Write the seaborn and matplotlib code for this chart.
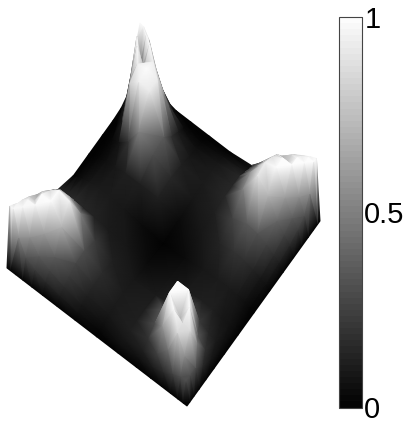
# grey height surface seen from above, with colour bar

import numpy as np
import matplotlib
matplotlib.use('Agg')
import matplotlib.pyplot as plt
import matplotlib.tri as mtri
from matplotlib.colors import ListedColormap
import seaborn as sns

# grid positions along both floor axes (denser close to the corners)
grid = [0, .02, .05, .09, .14, .20, .28, .38, .5, .62, .72, .80, .86, .91, .95, .98, 1]

# heights, one table per quadrant, each running from the
# corner (first row / column) to the middle of the floor
front_corner = [
    [0, 0, 0, 0, 0, 0, 0, 0, 0],
    [0, .3, .3, .3, .15, .08, .05, .04, .03],
    [0, .3, .55, .85, .5, .2, .1, .07, .06],
    [0, .25, .85, .88, 1, .35, .15, .09, .09],
    [0, .15, .45, 1, .7, 1, .22, .11, .1],
    [0, .1, .25, .6, 1, 1, .3, .12, .1],
    [0, .06, .12, .2, .3, .35, .15, .1, .08],
    [0, .05, .08, .11, .12, .12, .1, .07, .04],
    [0, .03, .06, .09, .1, .1, .08, .04, 0],
]
left_corner = [
    [0, .97, .9, .8, .7, .57, .38, .13, 0],
    [0, .97, .96, .9, .8, .65, .42, .14, .03],
    [0, .55, .97, .97, .8, .77, .55, .15, .06],
    [0, .3, .55, .97, 1, .87, .64, .16, .09],
    [0, .22, .35, .6, 1, 1, .64, .15, .1],
    [0, .15, .25, .35, .7, .95, .5, .14, .1],
    [0, .1, .16, .22, .28, .3, .22, .1, .08],
    [0, .05, .09, .12, .15, .16, .12, .08, .04],
    [0, .03, .06, .09, .1, .1, .08, .04, 0],
]
right_corner = [
    [0, 1, .95, .88, .78, .62, .37, .05, 0],
    [0, 1, 1, .93, .84, .68, .41, .06, .03],
    [0, .55, 1, 1, .8, .8, .5, .1, .06],
    [0, .3, .55, 1, 1, .88, .55, .15, .09],
    [0, .22, .35, .6, 1, .95, .6, .15, .1],
    [0, .15, .25, .4, .7, .9, .5, .15, .1],
    [0, .1, .16, .25, .32, .35, .25, .12, .08],
    [0, .05, .09, .14, .18, .2, .14, .08, .04],
    [0, .03, .06, .09, .1, .1, .08, .04, 0],
]
back_corner = [
    [1, .8, .53, .1, .02, 0, 0, 0, 0],
    [.98, .45, .97, .5, .1, .01, 0, 0, .03],
    [.83, .97, .5, 1, .6, .1, .03, .03, .06],
    [.42, .6, 1, .7, .95, .8, .07, .06, .09],
    [.05, .27, .52, .95, 1, .95, .2, .08, .1],
    [0, .05, .22, .55, .93, .92, .5, .12, .1],
    [0, .01, .04, .1, .18, .35, .3, .12, .08],
    [0, 0, .03, .06, .08, .12, .15, .12, .04],
    [0, .03, .06, .09, .1, .1, .08, .04, 0],
]
bar_ticks = [0, 0.5, 1]
bar_labels = ['0', '0.5', '1']

height = np.zeros((17, 17))
height[:9, :9] = front_corner
height[8:, :9] = np.array(left_corner)[::-1]
height[:9, 8:] = np.array(right_corner).T[:, ::-1]
height[8:, 8:] = np.array(back_corner)[::-1, ::-1]

sns.set_style('white')
plt.rcParams['font.family'] = ['Liberation Sans', 'DejaVu Sans']
grey = ListedColormap(sns.color_palette('gray', 64))

fig = plt.figure(figsize=(4.04, 4.24), dpi=100)
ax = fig.add_axes([0, 0, 1, 1])
ax.set_xlim(0, 404)
ax.set_ylim(424, 0)
ax.axis('off')

# parallel view: floor axes and height axis as pixel vectors
A, B = np.meshgrid(grid, grid)
floor_x = 187 + 133 * A - 180 * B
floor_y = 406 - 185 * A - 138 * B
screen_y = floor_y - 60 * height

# smooth shading with triangles painted from back to front,
# each cell split along the diagonal with the smaller height step
idx = np.arange(17 * 17).reshape(17, 17)
tris = []
for j in range(16):
    for i in range(16):
        step_main = abs(height[j, i] - height[j + 1, i + 1])
        step_anti = abs(height[j, i + 1] - height[j + 1, i])
        if step_anti + 0.25 < step_main:
            tris.append([idx[j, i], idx[j, i + 1], idx[j + 1, i]])
            tris.append([idx[j, i + 1], idx[j + 1, i + 1], idx[j + 1, i]])
        else:
            tris.append([idx[j, i], idx[j, i + 1], idx[j + 1, i + 1]])
            tris.append([idx[j, i], idx[j + 1, i + 1], idx[j + 1, i]])
tris = np.array(tris)
depth = floor_y.ravel()[tris].mean(axis=1)
tris = tris[np.argsort(depth)]
tri = mtri.Triangulation(floor_x.ravel(), screen_y.ravel(), tris)
mesh = ax.tripcolor(tri, height.ravel(), shading='gouraud', cmap=grey, vmin=0, vmax=1)

cax = fig.add_axes([338.5 / 404, 1 - 407.5 / 424, 23 / 404, 390.5 / 424])
cbar = fig.colorbar(mesh, cax=cax)
cbar.set_ticks(bar_ticks, labels=bar_labels)
cbar.ax.tick_params(direction='in', length=2, width=0.6, pad=2, labelsize=21, right=True, left=True,
                    color='#333333', labelcolor='black')
cbar.outline.set_linewidth(0.8)
cbar.outline.set_edgecolor('#444444')

fig.savefig('out.png', dpi=100)
